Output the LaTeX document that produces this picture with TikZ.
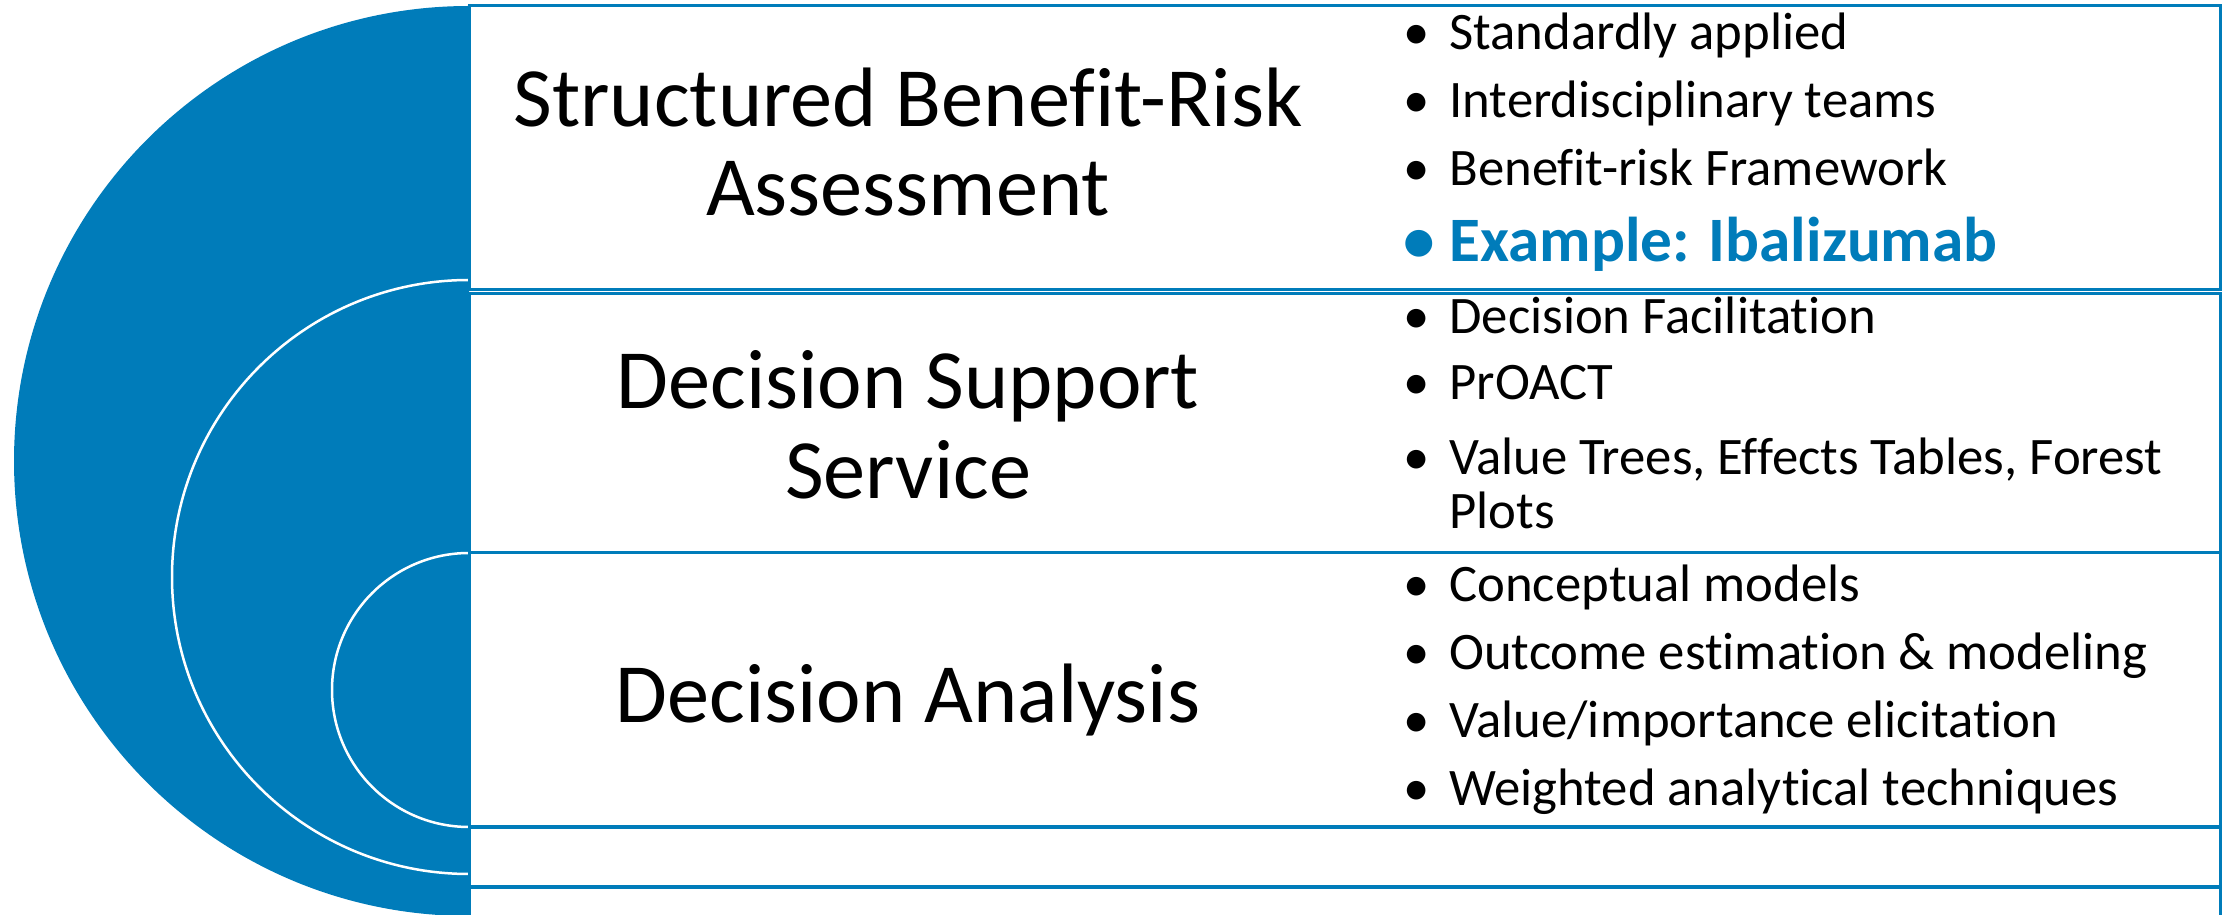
\documentclass[tikz,border=0pt]{standalone}
\usepackage{fontspec}
\setmainfont{Carlito}[Ligatures=NoCommon]
\usetikzlibrary{positioning}
\definecolor{srblue}{RGB}{0,124,186}
\newcommand\bul{\makebox[4.6mm][l]{\textbullet}}

\begin{document}
\begin{tikzpicture}[x=0.1mm,y=-0.1mm,thick,
    row box/.style={draw=srblue,line width=0.3mm},
    ring/.style={draw=white,line width=0.25mm},
    title node/.style={align=center,font=\fontsize{24}{25.5}\selectfont},
    item node/.style={anchor=base west,inner sep=0pt,align=left,font=\fontsize{15}{15.4}\selectfont},
    key item/.style={item node,text=srblue,font=\fontsize{18}{20}\selectfont\bfseries}]
    \useasboundingbox (0,0) rectangle (2226,915);
    \clip (0,0) rectangle (2226,915);
    \fill[white] (0,0) rectangle (2226,915);

    % half discs on the left
    \fill[srblue] (469,6) arc[start angle=90,end angle=270,radius=45.5mm] -- cycle;
    \draw[ring] (469,280) arc[start angle=90,end angle=270,radius=29.7mm];
    \draw[ring] (469,553) arc[start angle=90,end angle=270,radius=13.7mm];

    % table rows
    \draw[row box] (469,6) rectangle (2220,290);
    \draw[row box] (469,294) rectangle (2220,553);
    \draw[row box] (469,553) rectangle (2220,827);
    \draw[row box] (469,828) rectangle (2220,887);
    \draw[row box] (469,888) rectangle (2220,960);

    % row titles
    \node[title node] (sbra) at (908,142) {Structured Benefit-Risk\\Assessment};
    \node[title node] (dss) at (908,425) {Decision Support\\Service};
    \node[title node] (da) at (908,700) {Decision Analysis};

    % bullet lists
    \node[item node] (b11) at (1402,50) {\bul Standardly applied};
    \node[item node] (b12) [below=6.8mm of b11.base west,anchor=base west] {\bul Interdisciplinary teams};
    \node[item node] (b13) [below=6.8mm of b12.base west,anchor=base west] {\bul Benefit-risk Framework};
    \node[key item] (b14) [below=7.6mm of b13.base west,anchor=base west] {\bul Example: Ibalizumab};

    \node[item node] (b21) at (1402,334) {\bul Decision Facilitation};
    \node[item node] (b22) [below=6.6mm of b21.base west,anchor=base west] {\bul PrOACT};
    \node[item node] (b23) [below=12.9mm of b22.base west,anchor=base west] {\bul Value Trees, Effects Tables, Forest\\\hspace*{4.6mm}Plots};

    \node[item node] (b31) at (1402,602) {\bul Conceptual models};
    \node[item node] (b32) [below=6.8mm of b31.base west,anchor=base west] {\bul Outcome estimation \& modeling};
    \node[item node] (b33) [below=6.8mm of b32.base west,anchor=base west] {\bul Value/importance elicitation};
    \node[item node] (b34) [below=6.8mm of b33.base west,anchor=base west] {\bul Weighted analytical techniques};
\end{tikzpicture}
\end{document}
